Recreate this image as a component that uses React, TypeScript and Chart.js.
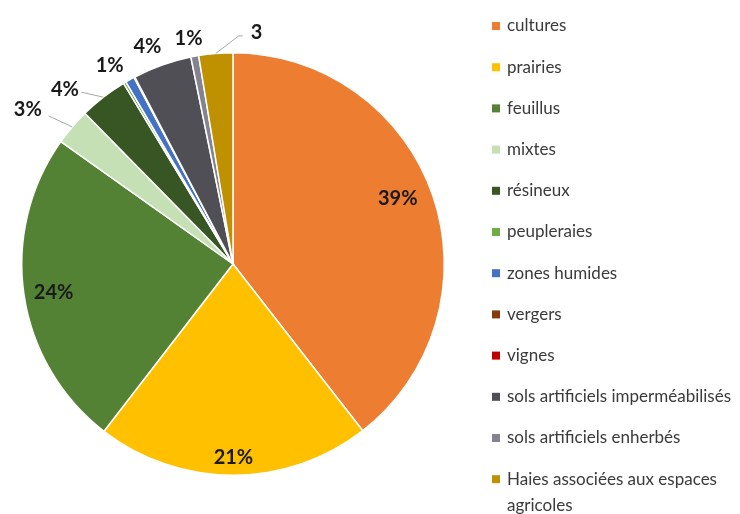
import React, { useEffect, useRef } from "react";
import { Chart, registerables } from "chart.js";

Chart.register(...registerables);

const categories = [
  "cultures",
  "prairies",
  "feuillus",
  "mixtes",
  "résineux",
  "peupleraies",
  "zones humides",
  "vergers",
  "vignes",
  "sols artificiels imperméabilisés",
  "sols artificiels enherbés",
  "Haies associées aux espaces agricoles",
];
const shares = [39.5, 21, 24.4, 2.8, 3.7, 0.2, 0.7, 0.05, 0.02, 4.5, 0.6, 2.6];
const shareLabels = ["39%", "21%", "24%", "3%", "4%", "", "1%", "", "", "4%", "1%", "3"];
const colors = [
  "#ED7D31",
  "#FFC000",
  "#548235",
  "#C5E0B4",
  "#375623",
  "#70AD47",
  "#4472C4",
  "#843C0C",
  "#C00000",
  "#4F4F55",
  "#85838F",
  "#BF9000",
];

// label placement: radius factor and angular offset (deg) relative to slice middle
const labelPlace: ({ r: number; da: number } | null)[] = [
  { r: 0.84, da: -2.8 },
  { r: 0.915, da: 0 },
  { r: 0.86, da: -0.6 },
  { r: 1.217, da: -3.4 },
  { r: 1.146, da: -6.1 },
  null,
  { r: 1.104, da: -2.7 },
  null,
  null,
  { r: 1.104, da: -1.9 },
  { r: 1.09, da: -0.7 },
  { r: 1.1, da: 10.5 },
];
const leaders: ({ r: number; da: number; tail: number } | null)[] = [
  null, null, null,
  { r: 1.12, da: -1.7, tail: 0 },
  { r: 1.085, da: -3.6, tail: 0 },
  null, null, null, null, null, null,
  { r: 1.08, da: 6.1, tail: 4 },
];

const labelPlugin = {
  id: "sliceLabels",
  afterDatasetsDraw(chart: any) {
    const ctx = chart.ctx;
    const meta = chart.getDatasetMeta(0);
    ctx.save();
    meta.data.forEach((arc: any, i: number) => {
      const p = arc.getProps(["x", "y", "startAngle", "endAngle", "outerRadius"], true);
      const mid = (p.startAngle + p.endAngle) / 2;
      const ld = leaders[i];
      if (ld) {
        const a2 = mid + (ld.da * Math.PI) / 180;
        const x1 = p.x + Math.cos(mid) * p.outerRadius;
        const y1 = p.y + Math.sin(mid) * p.outerRadius;
        const x2 = p.x + Math.cos(a2) * p.outerRadius * ld.r;
        const y2 = p.y + Math.sin(a2) * p.outerRadius * ld.r;
        ctx.strokeStyle = "#A6A6A6";
        ctx.lineWidth = 1;
        ctx.beginPath();
        ctx.moveTo(x1, y1);
        ctx.lineTo(x2, y2);
        if (ld.tail) ctx.lineTo(x2 + ld.tail, y2);
        ctx.stroke();
      }
      const lp = labelPlace[i];
      const txt = shareLabels[i];
      if (!lp || !txt) return;
      const a = mid + (lp.da * Math.PI) / 180;
      const x = p.x + Math.cos(a) * p.outerRadius * lp.r;
      const y = p.y + Math.sin(a) * p.outerRadius * lp.r;
      ctx.font = "bold 20px Lato";
      ctx.fillStyle = "#1A1A1A";
      ctx.textAlign = "center";
      ctx.textBaseline = "middle";
      ctx.fillText(txt, x, y);
    });
    ctx.restore();
  },
};

const legendPlugin = {
  id: "sideLegend",
  afterDraw(chart: any) {
    const ctx = chart.ctx;
    ctx.save();
    const x0 = 492;
    let y = 26;
    const step = 41.2;
    ctx.font = "17px Lato";
    ctx.textBaseline = "middle";
    ctx.textAlign = "left";
    categories.forEach((name, i) => {
      ctx.fillStyle = colors[i];
      ctx.fillRect(x0, y - 4, 8, 8);
      ctx.fillStyle = "#3A3A3A";
      const words = name.split(" ");
      const lines: string[] = [];
      let cur = "";
      words.forEach((w) => {
        const t = cur ? cur + " " + w : w;
        if (ctx.measureText(t).width > 236 && cur) {
          lines.push(cur);
          cur = w;
        } else cur = t;
      });
      lines.push(cur);
      lines.forEach((ln, k) => ctx.fillText(ln, x0 + 15, y + k * 26));
      y += step;
    });
    ctx.restore();
  },
};

export default function App() {
  const ref = useRef<HTMLCanvasElement | null>(null);
  useEffect(() => {
    if (!ref.current) return;
    const chart = new Chart(ref.current, {
      type: "pie",
      data: {
        labels: categories,
        datasets: [
          {
            data: shares,
            backgroundColor: colors,
            borderColor: "#FFFFFF",
            borderWidth: 1.5,
          },
        ],
      },
      options: {
        responsive: false,
        animation: false,
        layout: { padding: { left: 21, right: 295, top: 52, bottom: 38 } },
        plugins: {
          legend: { display: false },
          tooltip: { enabled: false },
        },
      },
      plugins: [labelPlugin, legendPlugin],
    });
    return () => chart.destroy();
  }, []);
  return (
    <div style={{ position: "absolute", left: 0, top: 0, width: 740, height: 514, background: "#fff" }}>
      <canvas ref={ref} width={740} height={514} />
    </div>
  );
}
